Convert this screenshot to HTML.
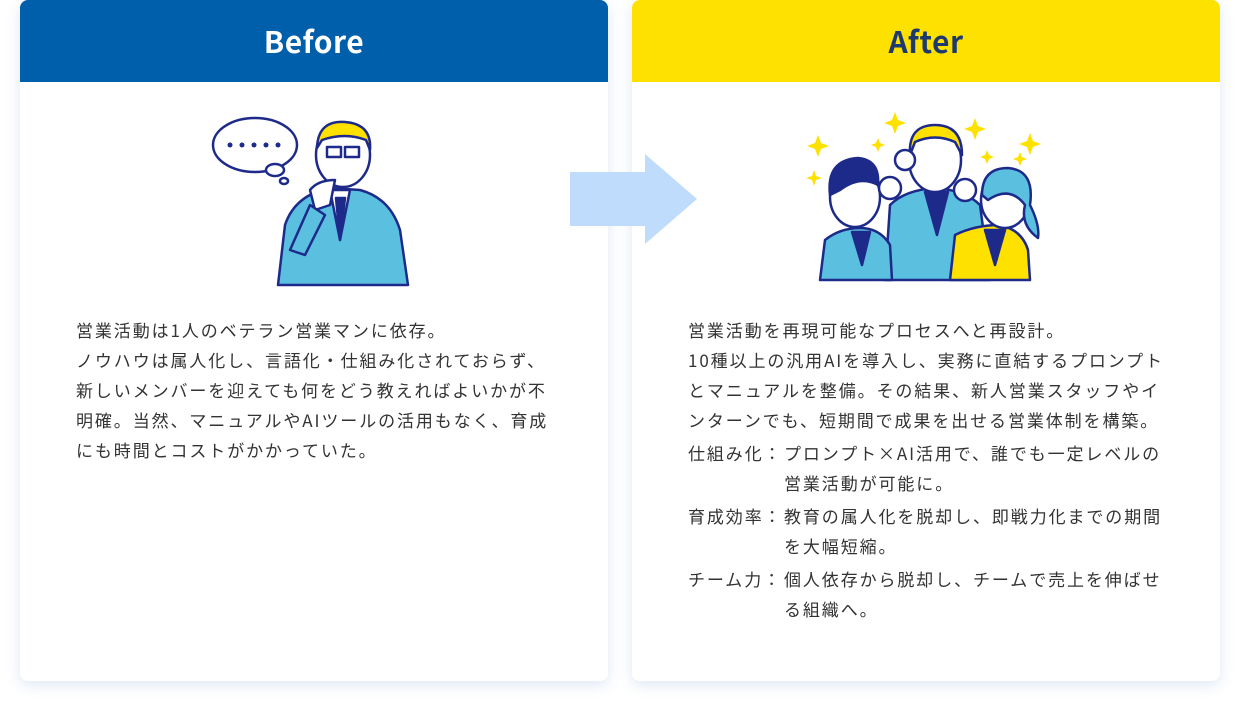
<!DOCTYPE html>
<html><head><meta charset="utf-8"><style>
body{margin:0;width:1240px;height:709px;background:#fff;font-family:"Liberation Sans","Noto Sans CJK JP",sans-serif;position:relative;overflow:hidden}
.card{position:absolute;top:0;width:588px;height:681px;background:#fff;border-radius:8px;box-shadow:0 4px 14px rgba(80,130,200,.18)}
.hd{height:82px;border-radius:8px 8px 0 0;text-align:center;line-height:80px;font-size:30px;font-weight:bold;letter-spacing:0.5px;font-family:"Noto Sans CJK JP","Liberation Sans",sans-serif}
.txt{position:absolute;font-size:17px;letter-spacing:1.9px;color:#333;line-height:30px;white-space:nowrap;font-family:"Noto Sans CJK JP",sans-serif}
.item{display:flex;margin-top:3px}
.item span:first-child{width:96px;flex:none}
</style></head><body>
<div class="card" style="left:20px"><div class="hd" style="background:#005fab;color:#fff">Before</div></div>
<div class="card" style="left:632px"><div class="hd" style="background:#ffe100;color:#1d3a6e">After</div></div>
<svg style="position:absolute;left:570px;top:154px" width="128" height="90"><polygon points="0,18 75,18 75,0 127,45 75,90 75,72 0,72" fill="#bfdcfc"/></svg>

<svg style="position:absolute;left:0;top:0" width="1240" height="300" stroke="#1d2a8a" stroke-width="2.5" stroke-linejoin="round">
<ellipse cx="255" cy="145" rx="42" ry="27" fill="#fff"/>
<ellipse cx="275" cy="170" rx="9" ry="6" fill="#fff"/><ellipse cx="284" cy="181" rx="4" ry="3" fill="#fff"/>
<g fill="#1d2a8a" stroke="none"><circle cx="230" cy="145" r="2.5"/><circle cx="242" cy="145" r="2.5"/><circle cx="254" cy="145" r="2.5"/><circle cx="266" cy="145" r="2.5"/><circle cx="278" cy="145" r="2.5"/></g>
<path d="M278,285 L285,225 Q295,195 330,188 L360,190 Q390,198 400,230 L408,285 Z" fill="#5bc0e0"/>
<path d="M330,190 L340,240 L350,190 Z" fill="#fff"/><path d="M336,198 L340,240 L345,198 Z" fill="#1d2a8a"/>
<ellipse cx="343" cy="155" rx="27" ry="32" fill="#fff"/>
<path d="M317,148 Q318,120 345,122 Q372,124 370,150 L366,140 Q345,132 322,140 Z" fill="#ffe100"/>
<rect x="327" y="147" width="14" height="10" fill="none"/><rect x="345" y="147" width="14" height="10" fill="none"/>
<path d="M310,190 Q318,180 335,180 L330,205 L315,210 Z" fill="#fff"/>
<path d="M290,250 L310,205 L325,215 L305,255 Z" fill="#5bc0e0"/>

<g fill="#ffe100" stroke="none">
<path d="M818,135 l3,8 8,3 -8,3 -3,8 -3,-8 -8,-3 8,-3z"/><path d="M814,170 l2,6 6,2 -6,2 -2,6 -2,-6 -6,-2 6,-2z"/>
<path d="M895,112 l3,8 8,3 -8,3 -3,8 -3,-8 -8,-3 8,-3z"/><path d="M878,138 l2,5 5,2 -5,2 -2,5 -2,-5 -5,-2 5,-2z"/>
<path d="M975,118 l3,8 8,3 -8,3 -3,8 -3,-8 -8,-3 8,-3z"/><path d="M1030,133 l3,8 8,3 -8,3 -3,8 -3,-8 -8,-3 8,-3z"/>
<path d="M987,150 l2,5 5,2 -5,2 -2,5 -2,-5 -5,-2 5,-2z"/><path d="M1020,152 l2,5 5,2 -5,2 -2,5 -2,-5 -5,-2 5,-2z"/>
</g>
<path d="M885,280 L890,205 Q905,190 935,188 Q965,190 980,205 L990,280 Z" fill="#5bc0e0"/>
<path d="M925,192 L937,235 L948,192 Z" fill="#1d2a8a"/>
<ellipse cx="935" cy="160" rx="26" ry="32" fill="#fff"/>
<path d="M910,155 Q908,125 935,125 Q962,125 962,155 L955,142 Q935,133 915,142 Z" fill="#ffe100"/>
<path d="M950,280 L955,235 Q975,225 1000,225 Q1022,230 1028,250 L1030,280 Z" fill="#ffe100"/>
<path d="M985,230 L995,265 L1005,230 Z" fill="#1d2a8a"/>
<ellipse cx="1005" cy="200" rx="24" ry="28" fill="#fff"/>
<path d="M982,195 Q982,168 1008,168 Q1035,170 1030,205 Q1040,225 1038,238 Q1020,225 1025,205 Q1010,185 988,200 Z" fill="#5bc0e0"/>
<path d="M820,280 L825,240 Q840,228 860,228 Q880,228 890,245 L892,280 Z" fill="#5bc0e0"/>
<path d="M852,232 L862,265 L870,232 Z" fill="#1d2a8a"/>
<ellipse cx="855" cy="197" rx="25" ry="30" fill="#fff"/>
<path d="M830,195 Q826,160 858,158 Q880,160 878,185 Q860,175 840,190 Z" fill="#1d2a8a"/>
<circle cx="890" cy="188" r="11" fill="#fff"/><circle cx="905" cy="160" r="10" fill="#fff"/><circle cx="965" cy="190" r="11" fill="#fff"/>
</svg>

<div class="txt" style="left:76px;top:315px">営業活動は1人のベテラン営業マンに依存。<br>ノウハウは属人化し、言語化・仕組み化されておらず、<br>新しいメンバーを迎えても何をどう教えればよいかが不<br>明確。当然、マニュアルやAIツールの活用もなく、育成<br>にも時間とコストがかかっていた。</div>
<div class="txt" style="left:688px;top:315px">営業活動を再現可能なプロセスへと再設計。<br>10種以上の汎用AIを導入し、実務に直結するプロンプト<br>とマニュアルを整備。その結果、新人営業スタッフやイ<br>ンターンでも、短期間で成果を出せる営業体制を構築。
<div class="item"><span>仕組み化：</span><span>プロンプト×AI活用で、誰でも一定レベルの<br>営業活動が可能に。</span></div>
<div class="item"><span>育成効率：</span><span>教育の属人化を脱却し、即戦力化までの期間<br>を大幅短縮。</span></div>
<div class="item"><span>チーム力：</span><span>個人依存から脱却し、チームで売上を伸ばせ<br>る組織へ。</span></div>
</div>
</body></html>
